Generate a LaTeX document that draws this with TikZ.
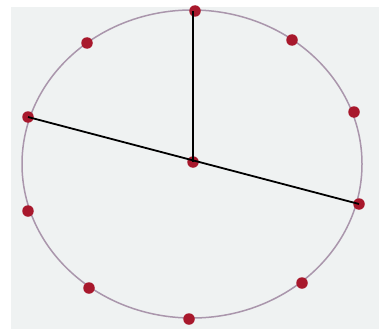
\documentclass[tikz,border=0pt]{standalone}
\definecolor{paper}{RGB}{239,242,242}
\definecolor{rim}{RGB}{170,150,172}
\definecolor{dotred}{RGB}{168,24,44}
\begin{document}
\begin{tikzpicture}[x=1pt,y=-1pt,
  dotstyle/.style={circle,fill=dotred,inner sep=0pt,minimum size=11.5pt},
  spoke/.style={black,line width=1.8pt}]
\useasboundingbox (0,0) rectangle (379,329);
\fill[white] (0,0) rectangle (379,329);
\fill[paper] (11,7) rectangle (379,329);
\draw[rim,line width=1.5pt] (192,164) ellipse [x radius=170,y radius=154];
\node[dotstyle] (t)  at (195,11) {};
\node[dotstyle] (ul) at (87,43) {};
\node[dotstyle] (ur) at (292,40) {};
\node[dotstyle] (ru) at (354,112) {};
\node[dotstyle] (l)  at (28,117) {};
\node[dotstyle] (c)  at (193,162) {};
\node[dotstyle] (r)  at (359,204) {};
\node[dotstyle] (ll) at (28,211) {};
\node[dotstyle] (lr) at (302,283) {};
\node[dotstyle] (bl) at (89,288) {};
\node[dotstyle] (b)  at (189,319) {};
\draw[spoke] (c.center) -- (c.center |- t.center);
\draw[spoke] (l.center) -- (r.center);
\end{tikzpicture}
\end{document}
